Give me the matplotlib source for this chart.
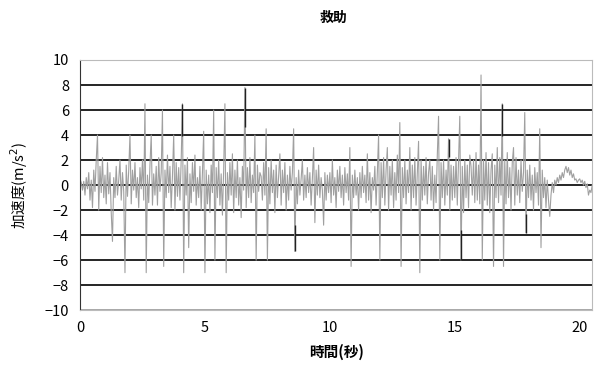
import numpy as np
import matplotlib
matplotlib.use('Agg')
from matplotlib import pyplot as plt

plt.rcParams['font.family'] = ['Noto Sans CJK JP', 'DejaVu Sans']

# acceleration, one row per second (dt = 0.05 s)
dt = 0.05
accel = [
    0.5, 0.2, -0.4, 0.3, -0.8, 0.6, -0.3, 1.0, -1.2, 0.4, -1.8, 1.2, -0.5, 2.0, 4.0, -2.0, 1.5, -0.6, 2.2, -1.0,
    0.8, -1.5, 1.8, -0.7, 1.0, -2.2, -4.5, 0.6, -1.0, 1.5, -0.8, 0.4, 2.0, -1.2, 1.0, -0.5, -7.0, 1.6, -0.9, 1.2,
    4.0, -1.5, 1.2, -0.4, 1.8, -1.0, 0.6, -1.8, 1.4, -0.3, 2.0, -1.2, 6.5, -7.0, 0.8, -1.4, 1.6, 4.0, -1.6, 0.9,
    -0.8, 1.5, -1.6, 2.2, -0.5, 1.0, 6.0, -6.5, 1.2, -1.0, 2.4, -0.6, 1.5, -1.8, 0.7, 4.0, -2.0, 1.8, -0.9, 1.4,
    -1.2, 2.0, 6.5, -7.0, 1.6, -0.8, 2.2, -5.0, 0.9, -1.4, 1.8, -0.5, 2.4, -1.6, 0.6, -1.0, 1.5, -2.0, 1.0, 4.3,
    -7.0, 1.2, -1.5, 0.8, -2.2, 1.6, -0.6, 6.0, -6.0, 1.4, -1.0, 2.0, -1.6, 0.9, -2.4, 1.2, 6.5, -7.0, 1.0, -1.2,
    1.8, -0.8, 2.5, -2.2, 1.2, -1.0, 2.0, -1.6, 0.6, -2.6, 1.5, -0.4, 7.8, -1.8, 1.4, -1.0, 2.2, -1.4, 0.8, -0.6,
    4.0, -6.0, 1.6, -0.5, 1.0, 0.7, -1.2, 1.8, -0.8, 4.5, -6.0, 1.4, -1.5, 2.0, -0.6, 1.2, -2.2, 1.6, -1.0, 0.8,
    2.5, -1.6, 1.2, -0.6, 1.8, -2.0, 0.8, -1.2, 1.5, -0.4, 1.0, 4.5, -5.3, 0.6, -1.5, 1.2, -0.8, 0.5, 2.0, -1.2,
    0.8, -1.0, 1.4, -0.6, 1.0, -1.6, 0.5, 3.0, -3.0, 1.2, -0.8, 1.6, -1.0, 0.6, -0.4, -3.2, 1.0, -1.2, 0.8, -0.6,
    1.0, -1.4, 2.0, -0.8, 0.6, -1.8, 1.2, -0.5, 1.5, -1.0, 0.8, -1.6, 1.4, -0.6, 0.9, -1.2, 3.0, -6.5, 0.8, -1.0,
    1.2, -0.8, 0.6, -2.0, 1.0, -1.0, 1.5, -0.6, 0.8, -1.4, 2.5, -1.2, 1.0, -2.2, 0.6, -0.4, 1.5, -1.6, 1.0, 4.0,
    -6.0, 1.8, -1.0, 2.2, -1.6, 1.2, 3.0, -2.0, 1.5, -0.8, 2.0, -1.8, 1.0, -1.2, 2.4, -0.6, 5.0, -6.5, 1.4, -1.0,
    2.0, -1.5, 1.2, -0.6, 3.0, -2.0, 1.6, -1.0, 2.2, -1.6, 1.0, 3.5, -7.0, 2.0, -1.2, 1.5, -0.8, 2.2, -1.5, 1.0,
    2.0, -1.2, 1.5, -2.0, 0.8, -1.4, 2.4, 5.5, -6.0, 1.8, -1.0, 2.0, -1.6, 1.2, -0.8, 3.7, -2.0, 1.6, -1.2, 1.5,
    -1.0, 2.2, -1.6, 1.8, 5.5, -6.0, 1.5, -2.2, 2.0, -1.0, 1.6, -1.8, 2.4, 1.5, -0.8, 2.0, -1.4, 2.6, -1.2, 1.6,
    -1.5, 8.8, -6.0, 2.0, -1.2, 2.6, -1.6, 1.8, -2.2, 1.2, 2.5, -6.5, 1.6, -1.0, 3.0, -1.4, 2.2, -0.8, 6.5, -6.5,
    2.0, -1.5, 2.6, -1.0, 1.4, -2.0, 1.8, 3.0, -1.6, 2.2, -0.8, 1.2, -1.4, 2.0, -0.5, 1.0, 5.8, -3.8, 1.2, -1.0,
    1.6, -1.2, 0.8, -2.0, 1.4, -0.6, 1.0, -1.6, 4.5, -5.0, 1.2, -1.0, 0.6, -1.8, 0.4, -1.2, -2.5, -0.8, 0.2, -0.6,
    0.4, 0.0, 0.6, 0.2, 0.8, 0.4, 1.0, 0.6, 1.2, 1.5, 1.0, 1.4, 0.8, 1.2, 0.6, 0.9, 0.4, 0.5, 0.2, 0.4,
    0.5, 0.2, 0.4, 0.0, 0.3, -0.2, 0.1, -0.8, -0.4, -0.6, 0.0,
]
# spike times where the trace tip shows up dark in the scan
dark_times = [4.1, 6.6, 8.6, 14.75, 15.25, 16.9, 17.85]

title = '救助'
xlabel = '時間(秒)'
ylabel = '加速度(m/s$^2$)'
xticks = [0, 5, 10, 15, 20]
yticks = list(range(-10, 11, 2))

t = np.arange(len(accel)) * dt
a = np.array(accel)

fig = plt.figure(figsize=(5.97, 3.68), dpi=100)
ax = fig.add_axes([0.134, 0.157, 0.858, 0.68])

for y in yticks:
    ax.axhline(y, color='black' if abs(y) < 10 else '#999999', lw=1.2, zorder=1)
ax.plot(t, a, color='#a0a0a0', lw=0.8, zorder=2)
idx = np.round(np.array(dark_times) / dt).astype(int)
ax.vlines(t[idx], a[idx] * 0.6, a[idx], color='#222222', lw=1.0, zorder=3)

ax.set_xlim(0, 20.5)
ax.set_ylim(-10, 10)
ax.set_xticks(xticks)
ax.set_yticks(yticks)
ax.set_yticklabels([str(v).replace('-', '\u2212') for v in yticks])
ax.tick_params(length=0, labelsize=10.5, pad=8)
for s in ['top', 'right', 'bottom']:
    ax.spines[s].set_color('#bbbbbb')
ax.spines['left'].set_color('#333333')

fig.text(0.558, 0.94, title, ha='center', fontsize=10, fontweight='bold')
ax.set_xlabel(xlabel, fontsize=10.5, fontweight='bold', labelpad=6)
ax.set_ylabel(ylabel, fontsize=10.5, labelpad=10)

fig.savefig('out.png', dpi=100)
